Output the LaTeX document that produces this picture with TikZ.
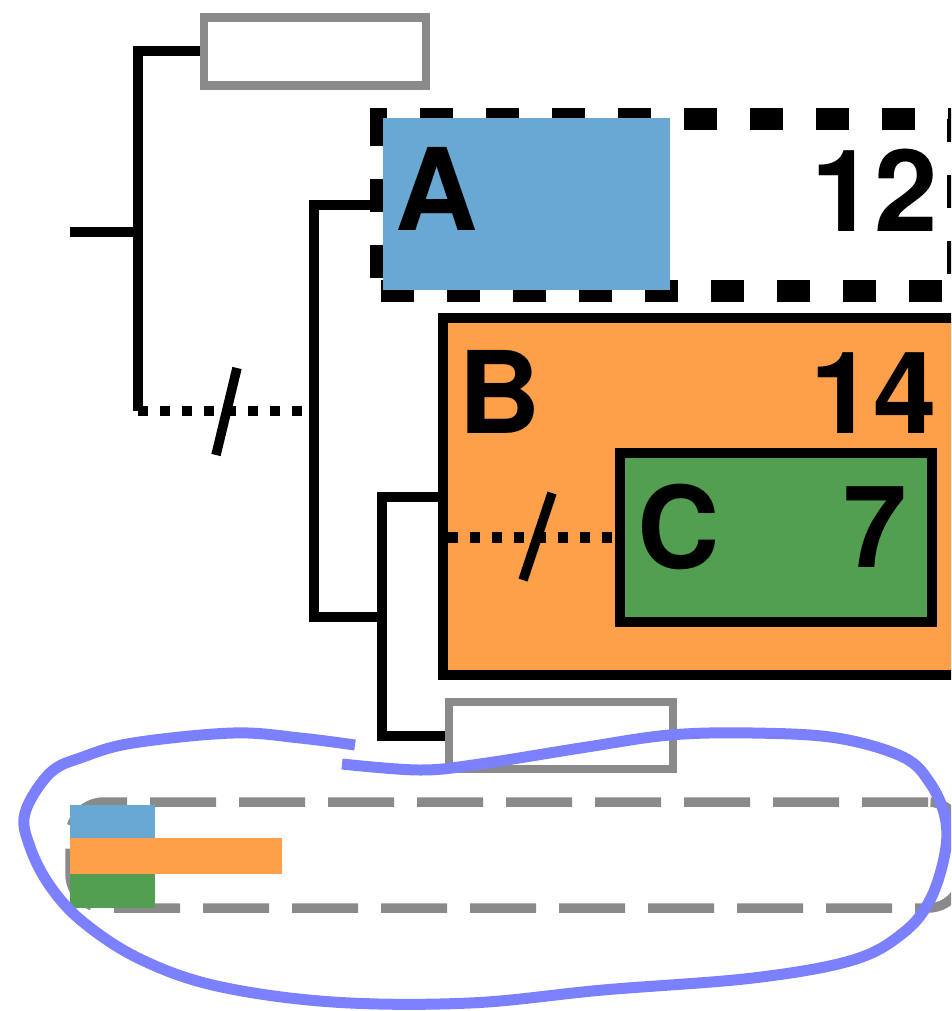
\documentclass[tikz,border=0pt]{standalone}
\usepackage{fontspec}
\setmainfont{TeX Gyre Heros}
\definecolor{cladeblue}{RGB}{106,168,212}
\definecolor{cladeorange}{RGB}{254,160,74}
\definecolor{cladegreen}{RGB}{82,159,82}
\definecolor{boxgray}{RGB}{138,138,138}
\definecolor{penblue}{RGB}{123,128,255}

\begin{document}
\begin{tikzpicture}[x=1pt, y=-1pt,
  tree/.style={line width=10pt},
  dotline/.style={line width=10.5pt, dash pattern=on 10pt off 12pt},
  cut/.style={line width=9.5pt},
  emptybox/.style={draw=boxgray, line width=8.5pt, inner sep=0pt, minimum width=222pt, minimum height=68pt},
  cladebox/.style={draw, line width=10pt, inner sep=0pt, outer sep=0pt},
  lbl/.style={inner sep=0pt, font=\fontsize{114}{130}\selectfont\bfseries},
  bar/.style={inner sep=0pt, minimum height=34pt}
]
  \useasboundingbox (0,0) rectangle (951,1011);
  \clip (0,0) rectangle (951,1011);

  % Legend strip
  \node[draw=boxgray, line width=9.5pt, rounded corners=34pt, dash pattern=on 66pt off 23pt,
        minimum width=892pt, minimum height=106pt] (legend) at (516,855) {};
  \node[bar, fill=cladeblue, minimum width=85pt, minimum height=33pt] (barA) at (112.5,821.5) {};
  \node[bar, fill=cladeorange, minimum width=212pt, minimum height=36pt] (barB) at (176,856) {};
  \node[bar, fill=cladegreen, minimum width=85pt] (barC) at (112.5,891) {};

  % Empty leaves
  \node[emptybox] (gtop) at (315,51.5) {};
  \node[emptybox, minimum width=224pt, minimum height=67pt] (gbot) at (561,735.5) {};

  % Clade A
  \node[draw, line width=22pt, dash pattern=on 33pt off 33pt, inner sep=0pt,
        minimum width=577pt, minimum height=172pt] (abox) at (669.5,205) {};
  \node[fill=cladeblue, inner sep=0pt, minimum width=287pt, minimum height=172pt] (afill) at (526.5,204) {};

  % Clade B and C
  \node[cladebox, fill=cladeorange, minimum width=557pt, minimum height=357pt] (bbox) at (721.5,496.5) {};
  \node[cladebox, fill=cladegreen, minimum width=312pt, minimum height=169pt] (cbox) at (776,537.5) {};

  % Labels
  \node[lbl, anchor=base west] (la) at (395,230) {A};
  \node[lbl, anchor=base east] (na) at (938,231) {12};
  \node[lbl, anchor=base west] (lb) at (458,433) {B};
  \node[lbl, anchor=base east] (nb) at (937,433) {14};
  \node[lbl, anchor=base west] (lc) at (637,568) {C};
  \node[lbl, anchor=base east] (nc) at (907,567) {7};

  % Tree
  \coordinate (root) at (70,232);
  \coordinate (n1) at (138,232);
  \coordinate (n1b) at (138,411);
  \coordinate (n2) at (314,411);
  \coordinate (n3) at (382,617);
  \draw[tree] (root) -- (n1);
  \draw[tree] (gtop.west) -| (n1b);
  \draw[tree] (abox.west) -| (n2) |- (n3);
  \draw[tree] (bbox.west) -| (n3) |- (gbot.west);
  \draw[dotline] (n1b) -- (n2);
  \draw[dotline, dash phase=17.5pt] (bbox.west |- cbox.west) -- (cbox.west);

  % Cut marks
  \coordinate (cut1) at (226.5,411.5);
  \coordinate (cut2) at (537.5,536.5);
  \draw[cut] ([shift={(-10.5,43.5)}]cut1) -- ([shift={(10.5,-43.5)}]cut1);
  \draw[cut] ([shift={(-14.5,43.5)}]cut2) -- ([shift={(14.5,-43.5)}]cut2);

  % Pen loop
  \draw[penblue, line width=11pt] plot[smooth, tension=0.6] coordinates {
    (342,764) (420,770) (480,764) (587,747) (670,735) (753,733) (837,738) (903,757)
    (930,783) (945,817) (945,853) (930,900) (903,933) (853,960) (753,978) (603,990)
    (470,1003) (333,1002) (217,986) (140,959) (83,922) (50,886) (30,847) (25,813)
    (50,773) (83,757) (133,743) (233,733) (300,738) (355,745)};
\end{tikzpicture}
\end{document}
